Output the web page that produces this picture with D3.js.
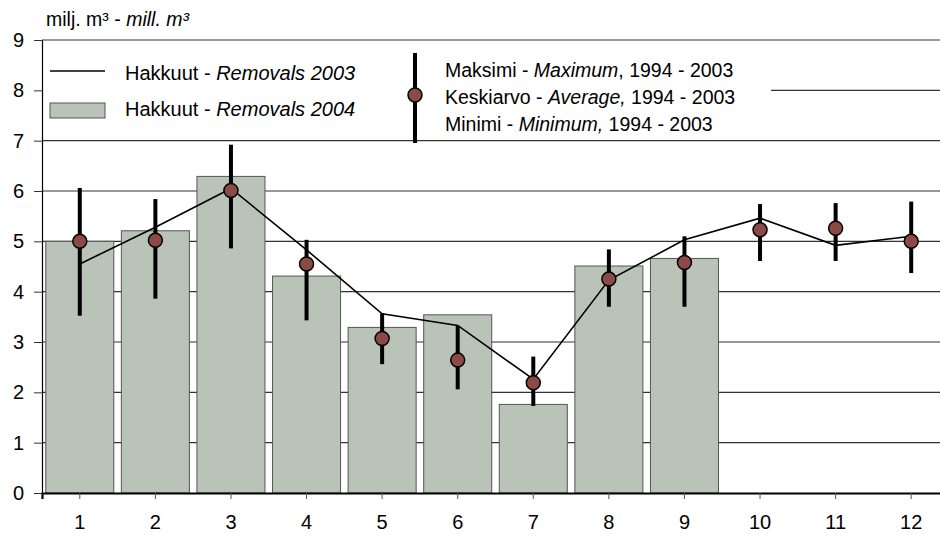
<!DOCTYPE html>
<html>
<head>
<meta charset="utf-8">
<script src="https://cdn.jsdelivr.net/npm/d3@7"></script>
<style>
  html, body { margin: 0; padding: 0; background: #fff; }
  svg { display: block; font-family: "Liberation Sans", Arial, sans-serif; }
</style>
</head>
<body>
<svg id="chart" width="940" height="543"></svg>
<script>
// ---- data ----
const months = ["1","2","3","4","5","6","7","8","9","10","11","12"];
const removals2004 = [5.00, 5.21, 6.29, 4.31, 3.29, 3.54, 1.76, 4.51, 4.66, null, null, null];
const removals2003 = [4.55, 5.28, 6.05, 4.83, 3.56, 3.33, 2.26, 4.23, 5.03, 5.46, 4.92, 5.10];
const average9403 = [5.00, 5.02, 6.01, 4.55, 3.07, 2.64, 2.19, 4.25, 4.58, 5.23, 5.26, 5.00];
const maximum9403 = [6.06, 5.84, 6.92, 5.03, 3.57, 3.32, 2.71, 4.84, 5.10, 5.74, 5.76, 5.79];
const minimum9403 = [3.52, 3.86, 4.86, 3.43, 2.56, 2.06, 1.73, 3.70, 3.70, 4.61, 4.61, 4.37];
const yTicks = [0,1,2,3,4,5,6,7,8,9];

const svg = d3.select("#chart");
const mLeft = 42, mRight = 949, mTop = 40, mBottom = 493;

const x = d3.scaleBand().domain(months).range([mLeft, mRight]).paddingInner(0.1).paddingOuter(0.05);
const y = d3.scaleLinear().domain([0, 9]).range([mBottom, mTop]);

const barFill = "#b9c3b8", dotFill = "#8b4a45";

// gridlines
svg.append("g").selectAll("line").data(yTicks.filter(d => d > 0)).join("line")
  .attr("x1", mLeft).attr("x2", 940)
  .attr("y1", d => y(d)).attr("y2", d => y(d))
  .attr("stroke", "#333").attr("stroke-width", 1.1);

// white legend background hiding gridline
svg.append("rect").attr("x", mLeft + 1).attr("y", 50).attr("width", 728).attr("height", 80).attr("fill", "#fff");

// bars
const cx = m => x(m) + x.bandwidth() / 2;
svg.append("g").selectAll("rect")
  .data(months.map((m, i) => ({m, v: removals2004[i]})).filter(d => d.v != null))
  .join("rect")
  .attr("x", d => x(d.m)).attr("width", x.bandwidth())
  .attr("y", d => y(d.v)).attr("height", d => y(0) - y(d.v))
  .attr("fill", barFill).attr("stroke", "#555").attr("stroke-width", 1);

// line 2003
svg.append("path")
  .datum(months.map((m, i) => [cx(m), y(removals2003[i])]))
  .attr("d", d3.line())
  .attr("fill", "none").attr("stroke", "#000").attr("stroke-width", 1.6);

// error bars
svg.append("g").selectAll("line").data(months).join("line")
  .attr("x1", d => cx(d)).attr("x2", d => cx(d))
  .attr("y1", (d, i) => y(maximum9403[i])).attr("y2", (d, i) => y(minimum9403[i]))
  .attr("stroke", "#000").attr("stroke-width", 4);

// averages
svg.append("g").selectAll("circle").data(months).join("circle")
  .attr("cx", d => cx(d)).attr("cy", (d, i) => y(average9403[i]))
  .attr("r", 7).attr("fill", dotFill).attr("stroke", "#000").attr("stroke-width", 1.5);

// y axis
const yAxis = d3.axisLeft(y).tickValues(yTicks).tickSize(8).tickFormat(d3.format("d"));
const gy = svg.append("g").attr("transform", `translate(${mLeft},0)`).call(yAxis);
gy.select(".domain").attr("stroke", "#000").attr("stroke-width", 1.2);
gy.selectAll(".tick line").attr("stroke", "#333");
gy.selectAll(".tick text").attr("font-size", 20).attr("fill", "#000").attr("x", -18)
  .attr("font-family", "Liberation Sans, Arial, sans-serif");

// x axis
const xAxis = d3.axisBottom(x).tickSize(6).tickPadding(16);
const gx = svg.append("g").attr("transform", `translate(0,${mBottom})`).call(xAxis);
gx.select(".domain").attr("stroke", "#000").attr("stroke-width", 2.2);
gx.selectAll(".tick line").attr("stroke", "#555");
gx.selectAll(".tick text").attr("font-size", 20).attr("fill", "#000")
  .attr("font-family", "Liberation Sans, Arial, sans-serif");

// y unit label
const unit = svg.append("text").attr("x", 46).attr("y", 26).attr("font-size", 19.5);
unit.append("tspan").text("milj. m³ - ");
unit.append("tspan").attr("font-style", "italic").text("mill. m³");

// legend 1
svg.append("line").attr("x1", 50).attr("x2", 105).attr("y1", 71).attr("y2", 71)
  .attr("stroke", "#000").attr("stroke-width", 1.6);
svg.append("rect").attr("x", 50).attr("y", 103).attr("width", 55).attr("height", 15)
  .attr("fill", barFill).attr("stroke", "#555");
const legItems = [
  {y: 80, a: "Hakkuut  - ", b: "Removals 2003"},
  {y: 116, a: "Hakkuut  - ", b: "Removals 2004"}
];
legItems.forEach(it => {
  const t = svg.append("text").attr("x", 125).attr("y", it.y).attr("font-size", 20);
  t.append("tspan").text(it.a);
  t.append("tspan").attr("font-style", "italic").text(it.b);
});

// legend 2
svg.append("line").attr("x1", 415).attr("x2", 415).attr("y1", 53).attr("y2", 143)
  .attr("stroke", "#000").attr("stroke-width", 4);
svg.append("circle").attr("cx", 415).attr("cy", 95).attr("r", 7)
  .attr("fill", dotFill).attr("stroke", "#000").attr("stroke-width", 1.5);
const leg2 = [
  {y: 77, a: "Maksimi - ", b: "Maximum", c: ", 1994 - 2003"},
  {y: 104, a: "Keskiarvo - ", b: "Average,", c: " 1994 - 2003"},
  {y: 131, a: "Minimi - ", b: "Minimum,", c: " 1994 - 2003"}
];
leg2.forEach(it => {
  const t = svg.append("text").attr("x", 445).attr("y", it.y).attr("font-size", 19.5);
  t.append("tspan").text(it.a);
  t.append("tspan").attr("font-style", "italic").text(it.b);
  t.append("tspan").text(it.c);
});
</script>
</body>
</html>
